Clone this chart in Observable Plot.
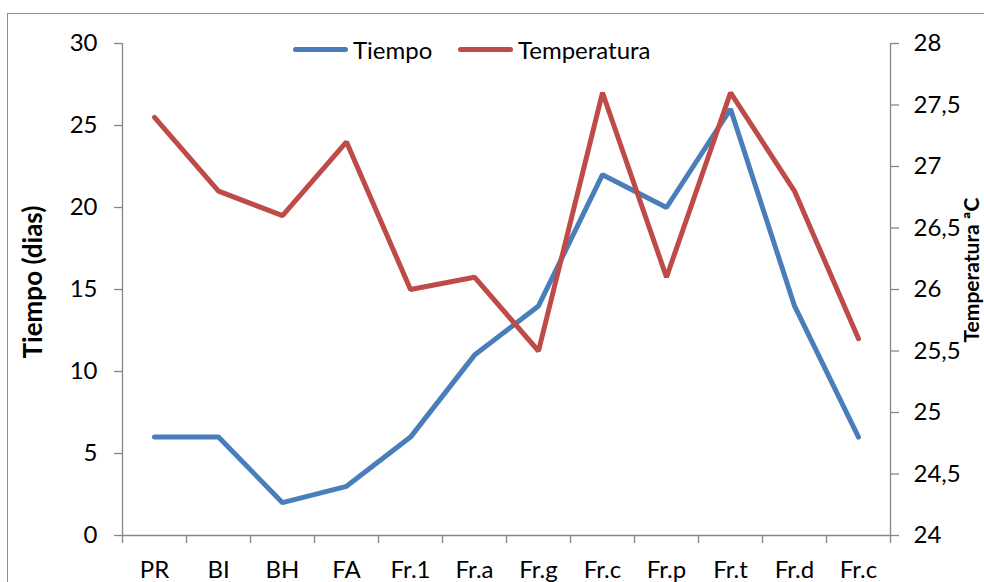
<!DOCTYPE html>
<html>
<head>
<meta charset="utf-8">
<script src="https://cdn.jsdelivr.net/npm/d3@7"></script>
<script src="https://cdn.jsdelivr.net/npm/@observablehq/plot@0.6"></script>
<style>
  html, body { margin: 0; padding: 0; background: #fff; overflow: hidden; }
  #wrap { position: relative; width: 984px; height: 582px; overflow: hidden; font-family: Lato, "Open Sans", sans-serif; }
  #border { position: absolute; left: 7px; top: 13px; width: 1100px; height: 700px; border: 1px solid #8c8c8c; box-sizing: border-box; }
  .item { position: absolute; top: 34px; height: 30px; display: flex; align-items: center; font-size: 24px; color: #000; white-space: nowrap; }
  .sw { display: inline-block; width: 55px; height: 5px; border-radius: 3px; margin-right: 5px; }
  svg { position: absolute; left: 0; top: 0; }
</style>
</head>
<body>
<div id="wrap">
  <div id="border"></div>
</div>
<script>
const categories = ["PR", "BI", "BH", "FA", "Fr.1", "Fr.a", "Fr.g", "Fr.c", "Fr.p", "Fr.t", "Fr.d", "Fr.c"];
const tiempo = [6, 6, 2, 3, 6, 11, 14, 22, 20, 26, 14, 6];
const temperatura = [27.4, 26.8, 26.6, 27.2, 26.0, 26.1, 25.5, 27.6, 26.1, 27.6, 26.8, 25.6];
const leftTicks = [0, 5, 10, 15, 20, 25, 30];
const rightTicks = [24, 24.5, 25, 25.5, 26, 26.5, 27, 27.5, 28];
const seriesNames = ["Tiempo", "Temperatura"];
const colors = ["#4a7ebb", "#be4b48"];
const legendLeft = [293, 458];

// map temperature (24..28) onto the left scale (0..30)
const tMin = 24, tMax = 28, yMax = 30;
const toLeft = t => (t - tMin) / (tMax - tMin) * yMax;

const idx = categories.map((_, i) => i);
const boundaries = d3.range(-0.5, categories.length, 1);
const axisColor = "#868686";
const fmt = v => String(v).replace(".", ",");

const chart = Plot.plot({
  width: 984,
  height: 582,
  marginLeft: 122,
  marginRight: 94,
  marginTop: 43,
  marginBottom: 47,
  style: { fontFamily: "Lato, 'Open Sans', sans-serif", fontSize: "24px", color: "#000", background: "transparent" },
  x: { type: "linear", domain: [-0.5, categories.length - 0.5] },
  y: { type: "linear", domain: [0, yMax] },
  marks: [
    Plot.ruleY([0], { stroke: axisColor, strokeWidth: 1.3 }),
    Plot.ruleX([-0.5], { stroke: axisColor, strokeWidth: 1.3 }),
    Plot.ruleX([categories.length - 0.5], { stroke: axisColor, strokeWidth: 1.3 }),
    Plot.axisX({ ticks: boundaries, tickFormat: () => "", tickSize: 8, stroke: axisColor, strokeWidth: 1.3, label: null }),
    Plot.axisX({ ticks: idx, tickFormat: i => categories[i], tickSize: 0, tickPadding: 25, label: null, fill: "#000" }),
    Plot.axisY({ anchor: "left", ticks: leftTicks, tickSize: 8, tickPadding: 17, stroke: axisColor, strokeWidth: 1.3, fill: "#000", label: null }),
    Plot.axisY({ anchor: "right", ticks: rightTicks.map(toLeft), tickFormat: (v, i) => fmt(rightTicks[i]), tickSize: 8, tickPadding: 15, stroke: axisColor, strokeWidth: 1.3, fill: "#000", label: null }),
    Plot.lineY(tiempo, { x: (d, i) => i, y: d => d, stroke: colors[0], strokeWidth: 5, strokeLinejoin: "miter", strokeLinecap: "round" }),
    Plot.lineY(temperatura, { x: (d, i) => i, y: d => toLeft(d), stroke: colors[1], strokeWidth: 5, strokeLinejoin: "miter", strokeLinecap: "round" })
  ]
});

// axis titles
const svg = d3.select(chart);
svg.append("text")
  .attr("transform", "translate(42,282) rotate(-90)")
  .attr("text-anchor", "middle")
  .attr("font-weight", "bold")
  .attr("font-size", "26px")
  .attr("fill", "#000")
  .text("Tiempo (dias)");
svg.append("text")
  .attr("transform", "translate(979,270) rotate(-90)")
  .attr("text-anchor", "middle")
  .attr("font-weight", "bold")
  .attr("font-size", "21px")
  .attr("fill", "#000")
  .text("Temperatura ªC");

const wrap = document.getElementById("wrap");
wrap.appendChild(chart);

// legend
seriesNames.forEach((name, i) => {
  const item = document.createElement("div");
  item.className = "item";
  item.style.left = legendLeft[i] + "px";
  const sw = document.createElement("span");
  sw.className = "sw";
  sw.style.background = colors[i];
  const label = document.createElement("span");
  label.textContent = name;
  item.appendChild(sw);
  item.appendChild(label);
  wrap.appendChild(item);
});
</script>
</body>
</html>
